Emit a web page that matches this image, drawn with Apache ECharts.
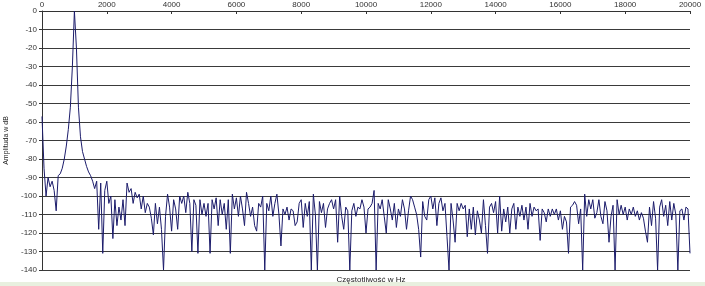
<!DOCTYPE html>
<html>
<head>
<meta charset="utf-8">
<script src="https://cdn.jsdelivr.net/npm/echarts@6/dist/echarts.min.js"></script>
<style>html,body{margin:0;padding:0;background:#fff}#c{width:705px;height:286px}</style>
</head>
<body>
<div id="c"></div>
<script>
// Spectrum samples: frequency grid step (Hz) and amplitude values (dB)
const freqStep = 62.5;
const amplitudeDb = [
-57,-85,-100,-90,-95,-92,-97,-108,-89,-88,
-85,-80,-73,-64,-52,-30,0,-20,-52,-68,
-76,-80,-84,-87,-89,-92,-96,-92,-118,-93,
-131,-97,-92,-104,-100,-123,-102,-116,-106,-113,
-102,-116,-93,-98,-96,-104,-98,-101,-99,-107,
-100,-109,-104,-106,-112,-121,-104,-115,-106,-118,
-140,-111,-99,-106,-119,-102,-107,-118,-100,-104,
-100,-109,-98,-104,-130,-102,-105,-131,-102,-110,
-104,-111,-104,-131,-102,-107,-101,-116,-102,-110,
-104,-118,-102,-131,-99,-107,-101,-111,-100,-107,
-116,-98,-104,-111,-106,-116,-119,-104,-106,-100,
-140,-104,-108,-100,-111,-104,-99,-110,-127,-107,
-110,-106,-113,-107,-108,-116,-114,-104,-102,-117,
-104,-111,-103,-140,-99,-110,-140,-103,-109,-104,
-117,-107,-104,-102,-107,-102,-125,-100,-111,-118,
-106,-108,-140,-108,-104,-111,-106,-107,-102,-106,
-120,-107,-106,-104,-97,-140,-104,-107,-102,-111,
-120,-102,-107,-113,-104,-117,-107,-111,-102,-107,
-118,-108,-100,-102,-106,-110,-118,-133,-103,-111,
-113,-102,-100,-107,-101,-116,-104,-101,-108,-104,
-122,-140,-104,-113,-125,-104,-108,-104,-107,-105,
-122,-107,-118,-106,-121,-108,-113,-120,-102,-116,
-131,-106,-104,-109,-103,-120,-100,-119,-107,-114,
-106,-120,-107,-104,-118,-106,-111,-105,-113,-106,
-118,-104,-111,-106,-108,-107,-124,-107,-109,-114,
-107,-111,-107,-110,-107,-113,-108,-118,-111,-114,
-131,-106,-105,-103,-105,-115,-107,-140,-99,-111,
-102,-107,-102,-112,-109,-102,-111,-115,-103,-108,
-125,-111,-105,-140,-102,-110,-105,-110,-106,-113,
-107,-110,-106,-111,-108,-113,-109,-112,-119,-125,
-106,-116,-103,-112,-140,-106,-102,-111,-105,-116,
-103,-113,-104,-110,-140,-108,-107,-113,-106,-107,
-131
];
const xTitle = 'Częstotliwość w Hz';
const yTitle = 'Amplituda w dB';

const seriesData = amplitudeDb.map((v, i) => [i * freqStep, v]);

const chart = echarts.init(document.getElementById('c'), null, {renderer: 'canvas'});
const font = 'Liberation Sans, Arial, sans-serif';
chart.setOption({
  animation: false,
  backgroundColor: '#ffffff',
  grid: {left: 42, right: 15, top: 11, bottom: 16, containLabel: false, outerBoundsMode: 'none'},
  title: {
    text: xTitle, left: 366, top: 271, textAlign: 'center',
    textStyle: {fontSize: 8, fontWeight: 'normal', color: '#222', fontFamily: font}
  },
  graphic: [{
    type: 'rect', left: 0, top: 282, shape: {width: 705, height: 4},
    style: {fill: '#e8f0df'}, silent: true
  }],
  xAxis: {
    type: 'value', position: 'top', min: 0, max: 20000, interval: 2000,
    axisLine: {show: true, lineStyle: {color: '#333', width: 1}},
    axisTick: {show: true, inside: true, length: 3, lineStyle: {color: '#333'}},
    axisLabel: {fontSize: 8, color: '#333', margin: 2, fontFamily: font,
      formatter: v => String(v)},
    splitLine: {show: false}
  },
  yAxis: {
    type: 'value', min: -140, max: 0, interval: 10,
    name: yTitle, nameLocation: 'middle', nameRotate: 90, nameGap: 32,
    nameTextStyle: {fontSize: 7, color: '#222', fontFamily: font},
    axisLine: {show: true, lineStyle: {color: '#333', width: 1}},
    axisTick: {show: true, length: 3, lineStyle: {color: '#333'}},
    axisLabel: {fontSize: 8, color: '#333', margin: 5, fontFamily: font,
      formatter: v => String(v)},
    splitLine: {show: true, lineStyle: {color: '#3a3a3a', width: 1}}
  },
  series: [{
    type: 'line', data: seriesData, showSymbol: false, symbol: 'none',
    lineStyle: {color: '#1c1c6b', width: 1}, clip: true
  }]
});
</script>
</body>
</html>
